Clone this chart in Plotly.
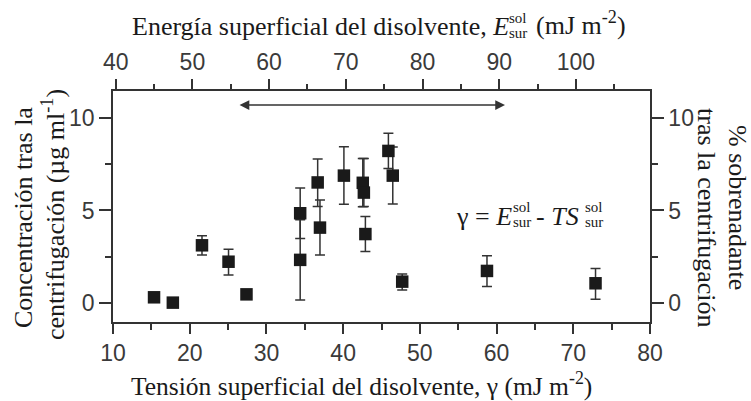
import plotly.graph_objects as go

# ---- data ----
gamma = [15.35, 17.8, 21.6, 25.06, 27.4, 34.4, 34.4, 36.68, 36.98, 40.1,
         42.56, 42.7, 42.9, 45.9, 46.47, 47.7, 58.75, 72.9]
conc = [0.29, 0.0, 3.11, 2.22, 0.45, 4.85, 2.32, 6.52, 4.07, 6.89,
        6.5, 5.97, 3.72, 8.23, 6.89, 1.14, 1.72, 1.05]
err_plus = [0, 0, 0.52, 0.68, 0, 1.37, 2.17, 1.27, 1.5, 1.56,
            1.32, 1.85, 0.95, 0.96, 1.55, 0.42, 0.82, 0.8]
err_minus = [0, 0, 0.52, 0.72, 0, 1.37, 2.17, 1.3, 1.48, 1.55,
             1.3, 0.76, 0.95, 0.96, 1.54, 0.45, 0.85, 0.87]

bottom_range = [10, 80]
top_range = [39.65, 109.65]
y_range = [-1.05, 11.48]
arrow_from = 26.3
arrow_to = 61.1
arrow_y = 10.72

# ---- layout helpers ----
W, H = 751, 401
L, R, T, B = 113, 101, 91, 79
PW, PH = W - L - R, H - T - B


def px(X):
    return (X - L) / PW


def py(Y):
    return (H - B - Y) / PH


SERIF = "Liberation Serif, Times New Roman, serif"
SANS = "Liberation Sans Narrow, Arial Narrow, Liberation Sans, Arial, sans-serif"
INK = "#1a1a1a"
AX = "#333333"
TF = 26

fig = go.Figure()
fig.add_trace(go.Scatter(
    x=gamma, y=conc, mode="markers",
    marker=dict(symbol="square", size=12.5, color=INK),
    error_y=dict(type="data", symmetric=False, array=err_plus, arrayminus=err_minus,
                 color=AX, thickness=1.5, width=5),
    showlegend=False, hoverinfo="skip"))
fig.add_trace(go.Scatter(x=[None], y=[None], xaxis="x2", yaxis="y2",
                         showlegend=False, hoverinfo="skip"))

tickfont = dict(family=SANS, size=23, color="#3a3a3a")
common = dict(showgrid=False, zeroline=False, showline=True, linecolor=AX, linewidth=1.5,
              ticks="outside", tickcolor=AX, tickwidth=1.5, tickfont=tickfont)

fig.update_layout(
    width=W, height=H, margin=dict(l=L, r=R, t=T, b=B),
    paper_bgcolor="white", plot_bgcolor="white",
    xaxis=dict(range=bottom_range, dtick=10, tick0=10, ticklen=10,
               minor=dict(dtick=5, ticklen=6, ticks="outside", tickcolor=AX, tickwidth=1.5),
               **common),
    xaxis2=dict(range=top_range, dtick=10, tick0=40, ticklen=10, overlaying="x", side="top",
                anchor="y",
                minor=dict(dtick=5, ticklen=5, ticks="outside", tickcolor=AX, tickwidth=1.5),
                **common),
    yaxis=dict(range=y_range, dtick=5, tick0=0, ticklen=12,
               minor=dict(dtick=2.5, ticklen=6, ticks="outside", tickcolor=AX, tickwidth=1.5),
               **common),
    yaxis2=dict(range=y_range, dtick=5, tick0=0, ticklen=12, overlaying="y", side="right",
                anchor="x",
                minor=dict(dtick=2.5, ticklen=6, ticks="outside", tickcolor=AX, tickwidth=1.5),
                **common),
)

ann = []


def text(t, X, Y, size=TF, xa="center", ya="middle", angle=0):
    ann.append(dict(text=t, x=px(X), y=py(Y), xref="paper", yref="paper",
                    xanchor=xa, yanchor=ya, showarrow=False, textangle=angle,
                    borderpad=0,
                    font=dict(family=SERIF, size=size, color=INK)))


# top title
text("Energía superficial del disolvente, <i>E</i>", 510, 26, xa="right")
text("sol", 508, 18, size=15, xa="left")
text("sur", 508, 33, size=15, xa="left")
text("(mJ m<sup>-2</sup>)", 535, 24, xa="left")
# bottom title
text("Tensión superficial del disolvente, γ (mJ m<sup>-2</sup>)", 361.5, 384, size=25.5)
# left / right titles (one annotation per line)
text("Concentración tras la", 23, 218, angle=-90)
text("centrifugación (µg ml<sup>-1</sup>)", 53, 215, angle=-90)
text("% sobrenadante", 738, 207, angle=90)
text("tras la centrifugación", 707, 217, angle=90)
# equation
text("γ = <i>E</i>", 513, 216, xa="right")
text("sol", 512, 207, size=15, xa="left")
text("sur", 512, 222, size=15, xa="left")
text("- <i>TS</i>", 535, 216, xa="left")
text("sol", 584, 207, size=15, xa="left")
text("sur", 584, 222, size=15, xa="left")

# double-headed arrow
ann.append(dict(x=arrow_to, y=arrow_y, ax=arrow_from, ay=arrow_y,
                xref="x", yref="y", axref="x", ayref="y", text="",
                showarrow=True, arrowhead=2, startarrowhead=2, arrowside="end+start",
                arrowsize=1.3, startarrowsize=1.3, arrowwidth=1.5, arrowcolor=AX))

fig.update_layout(annotations=ann)
fig.write_html("out.html", config={"displayModeBar": False},
               post_script="document.body.style.margin='0px';")
